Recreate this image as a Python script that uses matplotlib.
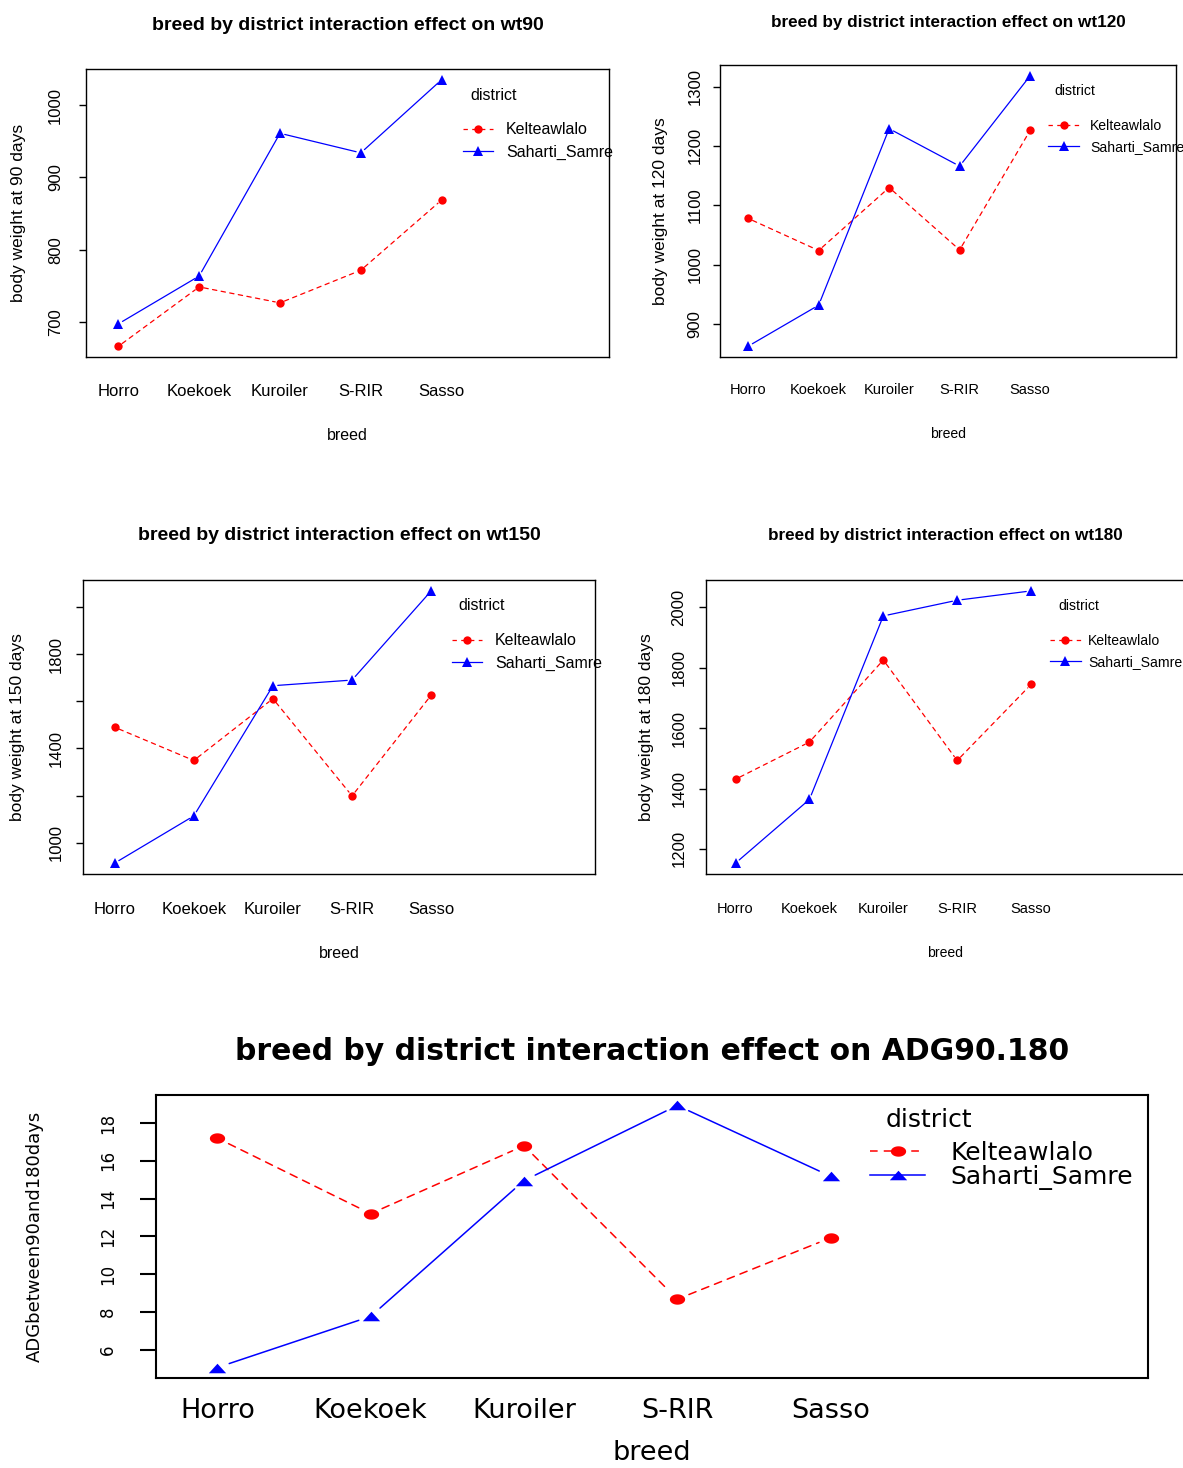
import numpy as np
import matplotlib
matplotlib.use('Agg')
import matplotlib.pyplot as plt
import matplotlib.transforms as mtransforms
from matplotlib.lines import Line2D

# ---- data ----
breeds = ['Horro', 'Koekoek', 'Kuroiler', 'S-RIR', 'Sasso']
districts = ['Kelteawlalo', 'Saharti_Samre']

wt90_kel = [667, 749, 727, 772, 869]
wt90_sah = [698, 764, 961, 934, 1035]
wt120_kel = [1078, 1024, 1130, 1025, 1226]
wt120_sah = [863, 932, 1229, 1166, 1318]
wt150_kel = [1490, 1349, 1611, 1199, 1626]
wt150_sah = [914, 1114, 1666, 1690, 2068]
wt180_kel = [1431, 1554, 1826, 1493, 1745]
wt180_sah = [1153, 1364, 1972, 2024, 2055]
adg_kel = [17.2, 13.2, 16.8, 8.67, 11.92]
adg_sah = [5.05, 7.76, 14.95, 18.93, 15.18]

W, H = 1183, 1468
RED = '#FF0000'
BLUE = '#0000FF'
PT = 72 / 100.0   # px -> pt

fig = plt.figure(figsize=(W / 100, H / 100), dpi=100)

small = dict(fam='Liberation Sans', title_fs=14, tick_fs=12, ylab_fs=12.5, xlab_fs=11.5,
             leg_fs=11.5, lw=0.9, dash=(0, (3.5, 3.5)), ms_r=6, ms_b=7, gap=3.5,
             frame=1.0, ytick_len=7, leg_title=26, leg_row=61, handlelen=1.9, textpad=0.8,
             labelspacing=0.45, row_k=0.95)
big = dict(fam='DejaVu Sans', title_fs=21.5, tick_fs=19.5, ylab_fs=13, xlab_fs=19.5,
           leg_fs=18, leg_title_fs=18, lw=1.1, dash=(0, (5, 4)), ms_r=11, ms_b=12.5,
           gap=9, frame=1.5, ytick_len=16, leg_title=25, leg_row=58, handlelen=2.2,
           textpad=1.0, labelspacing=0.0, row_k=0.95, ytick_fs=12)

theta = np.linspace(0, 2 * np.pi, 40)
flat_circle = np.column_stack([np.cos(theta), 0.68 * np.sin(theta)])
flat_tri = [(-1, -0.55), (1, -0.55), (0, 0.55), (-1, -0.55)]


def interaction_panel(box, kel, sah, title, ylabel, ystep, st, skip=(), hscale=1.0,
                      yt_dx=30, ylab_dx=66, xt_dy=34, xlab_dy=78, title_dy=43,
                      markers=('o', '^'), textpad=None):
    x0, y0, x1, y1 = box
    w, h = x1 - x0, y1 - y0
    ax = fig.add_axes([x0 / W, 1 - y1 / H, w / W, h / H])
    fam = st['fam']
    xs = np.arange(1, len(breeds) + 1)
    leg_fs = st['leg_fs'] * hscale

    series = [(kel, RED, st['dash'], markers[0], st['ms_r']),
              (sah, BLUE, '-', markers[1], st['ms_b'])]
    handles = []
    for vals, col, ls, mk, ms in series:
        ax.plot(xs, vals, linestyle='none', marker=mk, color=col, ms=ms,
                markeredgewidth=0, zorder=3)
        # R type="b": segments stop short of the points
        for i in range(len(xs) - 1):
            ax.annotate('', xy=(xs[i + 1], vals[i + 1]), xytext=(xs[i], vals[i]),
                        arrowprops=dict(arrowstyle='-', color=col, lw=st['lw'],
                                        linestyle=ls, shrinkA=st['gap'],
                                        shrinkB=st['gap']))
        handles.append(Line2D([], [], color=col, ls=ls, lw=st['lw'], marker=mk,
                              ms=ms, markeredgewidth=0))

    allv = np.concatenate([kel, sah])
    rng = allv.max() - allv.min()
    lo, hi = allv.min() - 0.04 * rng, allv.max() + 0.04 * rng
    ax.set_ylim(lo, hi)
    ax.set_xlim(0.6, 7.07)

    yt = np.arange(np.ceil(lo / ystep) * ystep, hi + 1e-9, ystep)
    ylabs = ['' if int(round(v)) in skip else f'{v:.0f}' for v in yt]
    ax.set_yticks(yt, labels=ylabs, fontsize=st.get('ytick_fs', st['tick_fs']),
                  fontfamily=fam, rotation=90, ha='center', va='center')
    ax.tick_params(axis='y', direction='out', length=st['ytick_len'] * PT,
                   width=st['frame'], pad=(yt_dx - st['ytick_len']) * PT)
    ax.set_xticks(xs, labels=breeds, fontsize=st['tick_fs'] * hscale, fontfamily=fam,
                  va='center')
    ax.tick_params(axis='x', length=0, pad=xt_dy * PT)

    for sp in ax.spines.values():
        sp.set_linewidth(st['frame'])
        sp.set_color('black')

    ax.set_title(title, fontsize=st['title_fs'] * hscale, fontweight='bold', fontfamily=fam,
                 y=1 + title_dy / h, pad=0, va='center')
    ax.set_xlabel('breed', fontsize=st['xlab_fs'] * hscale, fontfamily=fam)
    ax.xaxis.set_label_coords(0.5, -xlab_dy / h)
    ax.xaxis.label.set_va('center')
    ax.set_ylabel(ylabel, fontsize=st['ylab_fs'], fontfamily=fam)
    ax.yaxis.set_label_coords(-ylab_dx / w, 0.5)
    ax.yaxis.label.set_va('center')

    trans = mtransforms.blended_transform_factory(ax.transData, ax.transAxes)
    ax.text(5.64, 1 - st['leg_title'] / h, 'district', transform=trans, ha='center',
            va='center', fontsize=st.get('leg_title_fs', st['leg_fs']) * hscale,
            fontfamily=fam)
    row_h = leg_fs / PT * st['row_k']
    ax.legend(handles, districts, loc='upper left',
              bbox_to_anchor=(5.26, 1 - (st['leg_row'] - row_h / 2) / h),
              bbox_transform=trans, frameon=False, borderpad=0, borderaxespad=0,
              handlelength=st['handlelen'] / hscale,
              handletextpad=st['textpad'] if textpad is None else textpad,
              labelspacing=st['labelspacing'], numpoints=1,
              prop=dict(family=fam, size=leg_fs))
    return ax


title_fmt = 'breed by district interaction effect on {}'

interaction_panel((86, 69, 609, 357), wt90_kel, wt90_sah, title_fmt.format('wt90'),
                  'body weight at 90 days', 100, small, yt_dx=30.5, ylab_dx=68, xt_dy=34,
                  xlab_dy=78)
interaction_panel((720, 65, 1176, 357), wt120_kel, wt120_sah, title_fmt.format('wt120'),
                  'body weight at 120 days', 100, small, hscale=0.88, yt_dx=25, ylab_dx=60,
                  xt_dy=33, xlab_dy=77)
interaction_panel((83, 580, 595, 874), wt150_kel, wt150_sah, title_fmt.format('wt150'),
                  'body weight at 150 days', 200, small, skip=(1200, 1600, 2000),
                  yt_dx=27, ylab_dx=65, xt_dy=35, xlab_dy=79, title_dy=44)
interaction_panel((706, 580, 1184, 874), wt180_kel, wt180_sah, title_fmt.format('wt180'),
                  'body weight at 180 days', 200, small, hscale=0.88, yt_dx=27, ylab_dx=60,
                  xt_dy=35, xlab_dy=79, title_dy=44, textpad=0.55)
interaction_panel((156, 1095, 1148, 1378), adg_kel, adg_sah, title_fmt.format('ADG90.180'),
                  'ADGbetween90and180days', 2, big, yt_dx=48, ylab_dx=121, xt_dy=33,
                  xlab_dy=75, title_dy=43, markers=(flat_circle, flat_tri))

fig.savefig('out.png', dpi=100, facecolor='white')
